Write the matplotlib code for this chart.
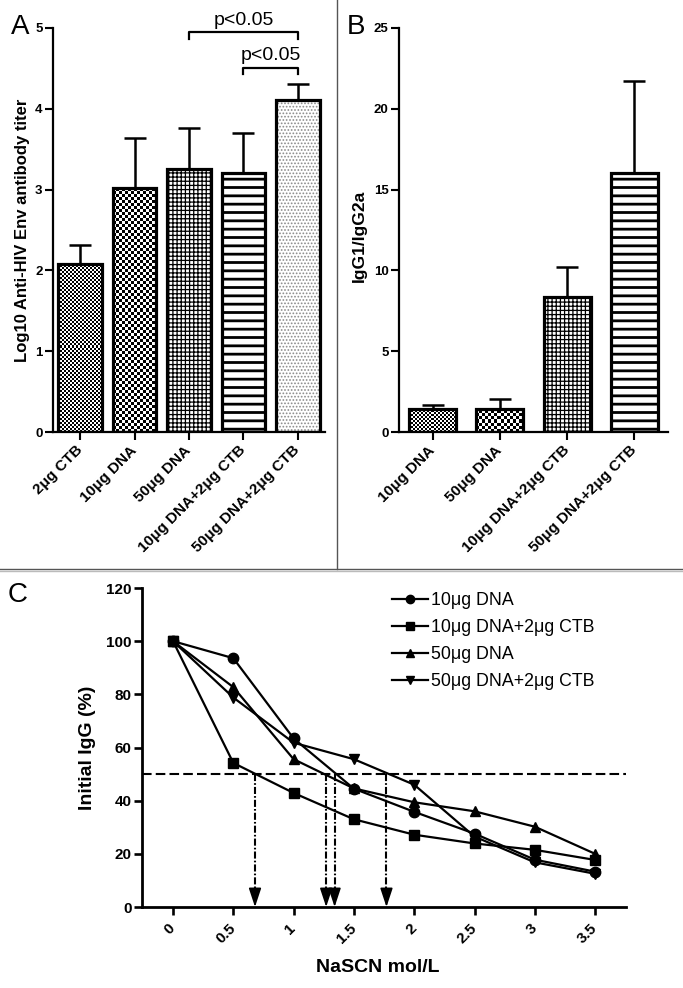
import matplotlib
matplotlib.use('Agg')
import matplotlib.pyplot as plt
import numpy as np
from matplotlib.lines import Line2D
from matplotlib.colors import ListedColormap

plt.rcParams['font.family'] = ['Liberation Sans', 'DejaVu Sans']

# ---------------- data ----------------
a_labels = ['2μg CTB', '10μg DNA', '50μg DNA', '10μg DNA+2μg CTB', '50μg DNA+2μg CTB']
a_means = [2.08, 3.02, 3.26, 3.21, 4.11]
a_err = [0.23, 0.62, 0.50, 0.49, 0.20]
a_patterns = ['fine', 'checker', 'grid', 'hlines', 'dots']

b_labels = ['10μg DNA', '50μg DNA', '10μg DNA+2μg CTB', '50μg DNA+2μg CTB']
b_means = [1.42, 1.43, 8.35, 16.0]
b_err = [0.25, 0.60, 1.85, 5.75]
b_patterns = ['fine', 'checker', 'grid', 'hlines']

c_x = [0, 0.5, 1, 1.5, 2, 2.5, 3, 3.5]
c_xlabels = ['0', '0.5', '1', '1.5', '2', '2.5', '3', '3.5']
c_series = {
    '10μg DNA': [100, 93.6, 63.4, 44.5, 35.8, 27.6, 17.8, 13.3],
    '10μg DNA+2μg CTB': [100, 54.2, 42.9, 33.0, 27.2, 23.9, 21.5, 17.7],
    '50μg DNA': [100, 82.7, 55.6, 44.6, 39.4, 36.0, 30.2, 20.0],
    '50μg DNA+2μg CTB': [100, 78.8, 61.8, 55.6, 46.0, 26.5, 16.8, 12.5],
}
c_markers = ['o', 's', '^', 'v']
half_x = [0.68, 1.27, 1.34, 1.77]
half_level = 50

W, H = 683, 988
fig = plt.figure(figsize=(W / 100, H / 100), dpi=100)
fig.patch.set_facecolor('white')


def px_axes(l, t, r, b):
    return fig.add_axes([l / W, 1 - b / H, (r - l) / W, (b - t) / H])


def style_axes(ax, ysize, xsize, spine_lw=1.6):
    for s in ['top', 'right']:
        ax.spines[s].set_visible(False)
    for s in ['left', 'bottom']:
        ax.spines[s].set_linewidth(spine_lw)
    ax.tick_params(direction='out', length=5.5, width=spine_lw * 0.95)
    ax.tick_params(axis='y', labelsize=ysize, pad=2)
    ax.tick_params(axis='x', labelsize=xsize, pad=6)
    for lab in ax.get_yticklabels() + ax.get_xticklabels():
        lab.set_fontweight('bold')


def set_hlw(patches, lw):
    for p in patches:
        if hasattr(p, 'set_hatch_linewidth'):
            p.set_hatch_linewidth(lw)


def draw_bars(ax, x, means, err, patterns, width, xlim, ylim):
    ax.set_xlim(*xlim)
    ax.set_ylim(*ylim)
    cmap = ListedColormap(['white', 'black'])
    for xi, m, pat in zip(x, means, patterns):
        if pat in ('fine', 'checker'):
            cell = 2 if pat == 'fine' else 3
            base = ax.bar([xi], [m], width, color='white', linewidth=0, zorder=2)[0]
            p0 = ax.transData.transform((xi - width / 2, 0))
            p1 = ax.transData.transform((xi + width / 2, m))
            nx = max(1, int(round(abs(p1[0] - p0[0]))))
            ny = max(1, int(round(abs(p1[1] - p0[1]))))
            jj, ii = np.meshgrid(np.arange(nx), np.arange(ny))
            arr = ((ii // cell + jj // cell) % 2).astype(float)
            im = ax.imshow(arr, cmap=cmap, vmin=0, vmax=1, origin='lower',
                           extent=(xi - width / 2, xi + width / 2, 0, m),
                           interpolation='nearest', aspect='auto', zorder=2.5)
            im.set_clip_path(base)
        elif pat == 'grid':
            with plt.rc_context({'hatch.linewidth': 0.9}):
                bs = ax.bar([xi], [m], width, color='white', edgecolor='black',
                            hatch='++++', linewidth=0, zorder=2)
            set_hlw(bs, 0.9)
        elif pat == 'hlines':
            with plt.rc_context({'hatch.linewidth': 2.0}):
                bs = ax.bar([xi], [m], width, color='white', edgecolor='black',
                            hatch='--', linewidth=0, zorder=2)
            set_hlw(bs, 2.0)
        elif pat == 'dots':
            with plt.rc_context({'hatch.linewidth': 0.8}):
                bs = ax.bar([xi], [m], width, color='white', edgecolor='#8a8a8a',
                            hatch='.....', linewidth=0, zorder=2)
            set_hlw(bs, 0.8)
    ax.bar(x, means, width, fill=False, edgecolor='black', linewidth=2.3, zorder=3)
    ax.errorbar(x, means, yerr=[np.zeros(len(err)), err], fmt='none', ecolor='black',
                elinewidth=1.8, capsize=8, capthick=1.8, zorder=1)
    ax.set_xlim(*xlim)
    ax.set_ylim(*ylim)


# ---------------- Panel A ----------------
axA = px_axes(53, 28, 325, 432)
xa = np.arange(len(a_labels))
draw_bars(axA, xa, a_means, a_err, a_patterns, 0.8, (-0.5, 4.5), (0, 5))
axA.set_yticks([0, 1, 2, 3, 4, 5])
axA.set_xticks(xa)
axA.set_xticklabels(a_labels, rotation=45, ha='right', va='center',
                    rotation_mode='anchor')
style_axes(axA, 9.5, 11)
# significance brackets
axA.plot([2, 2, 4, 4], [4.87, 4.95, 4.95, 4.87], color='black', lw=1.6, clip_on=False)
axA.text(3, 4.99, 'p<0.05', ha='center', va='bottom', fontsize=14)
axA.plot([3, 3, 4, 4], [4.43, 4.51, 4.51, 4.43], color='black', lw=1.6, clip_on=False)
axA.text(3.5, 4.55, 'p<0.05', ha='center', va='bottom', fontsize=14)
fig.text(23 / W, 1 - 230 / H, 'Log10 Anti-HIV Env antibody titer', rotation=90,
         ha='center', va='center', fontweight='bold', fontsize=12)

# ---------------- Panel B ----------------
axB = px_axes(399, 28, 668, 432)
xb = np.arange(len(b_labels))
draw_bars(axB, xb, b_means, b_err, b_patterns, 0.7, (-0.5, 3.5), (0, 25))
axB.set_yticks([0, 5, 10, 15, 20, 25])
axB.set_xticks(xb)
axB.set_xticklabels(b_labels, rotation=45, ha='right', va='center',
                    rotation_mode='anchor')
style_axes(axB, 9.5, 11)
fig.text(359 / W, 1 - 236 / H, 'IgG1/IgG2a', rotation=90,
         ha='center', va='center', fontweight='bold', fontsize=12.5)

# ---------------- Panel C ----------------
axC = px_axes(142, 588, 626, 907)
for (name, vals), mk in zip(c_series.items(), c_markers):
    axC.plot(c_x, vals, color='black', lw=1.6, marker=mk, markersize=7.5,
             label=name, zorder=3, clip_on=False)
axC.axhline(half_level, color='black', lw=1.5, linestyle=(0, (4.6, 2.0)), zorder=2)
head_top = 6.4
for hx in half_x:
    axC.plot([hx, hx], [half_level, head_top], color='black', lw=1.5,
             linestyle=(0, (3.4, 1.0, 0.8, 1.0)), zorder=2)
    axC.annotate('', xy=(hx, 0), xytext=(hx, head_top),
                 arrowprops=dict(arrowstyle='-|>,head_length=1.15,head_width=0.38',
                                 color='black', lw=1.2, shrinkA=0, shrinkB=0))
axC.set_xlim(-0.257, 3.756)
axC.set_ylim(0, 120)
axC.set_yticks([0, 20, 40, 60, 80, 100, 120])
axC.set_xticks(c_x)
axC.set_xticklabels(c_xlabels, rotation=45, ha='right', va='center',
                    rotation_mode='anchor')
style_axes(axC, 11, 11, spine_lw=2.0)
axC.tick_params(axis='x', pad=8)
fig.text(378 / W, 1 - 967 / H, 'NaSCN mol/L', ha='center', va='center',
         fontweight='bold', fontsize=14)
fig.text(88 / W, 1 - 748 / H, 'Initial IgG (%)', rotation=90, ha='center',
         va='center', fontweight='bold', fontsize=14)
leg = axC.legend(loc='upper left', bbox_to_anchor=(392 / W, 1 - 592 / H),
                 bbox_transform=fig.transFigure, frameon=False, fontsize=12.8,
                 handlelength=2.0, handletextpad=0.2, labelspacing=0.56,
                 borderpad=0, borderaxespad=0, markerscale=0.8)

# ---------------- panel letters & dividers ----------------
fig.text(11 / W, 1 - 14 / H, 'A', fontsize=20, ha='left', va='top')
fig.text(347 / W, 1 - 14 / H, 'B', fontsize=20, ha='left', va='top')
fig.text(8 / W, 1 - 582 / H, 'C', fontsize=20, ha='left', va='top')
fig.add_artist(Line2D([337 / W, 337 / W], [1, 1 - 569 / H], transform=fig.transFigure,
                      color='#555555', lw=1.0))
fig.add_artist(Line2D([0, 1], [1 - 569 / H, 1 - 569 / H], transform=fig.transFigure,
                      color='#555555', lw=1.0))
fig.add_artist(Line2D([0, 1], [1 - 570.5 / H, 1 - 570.5 / H], transform=fig.transFigure,
                      color='#bbbbbb', lw=1.0))

fig.savefig('out.png', dpi=100, facecolor='white')
